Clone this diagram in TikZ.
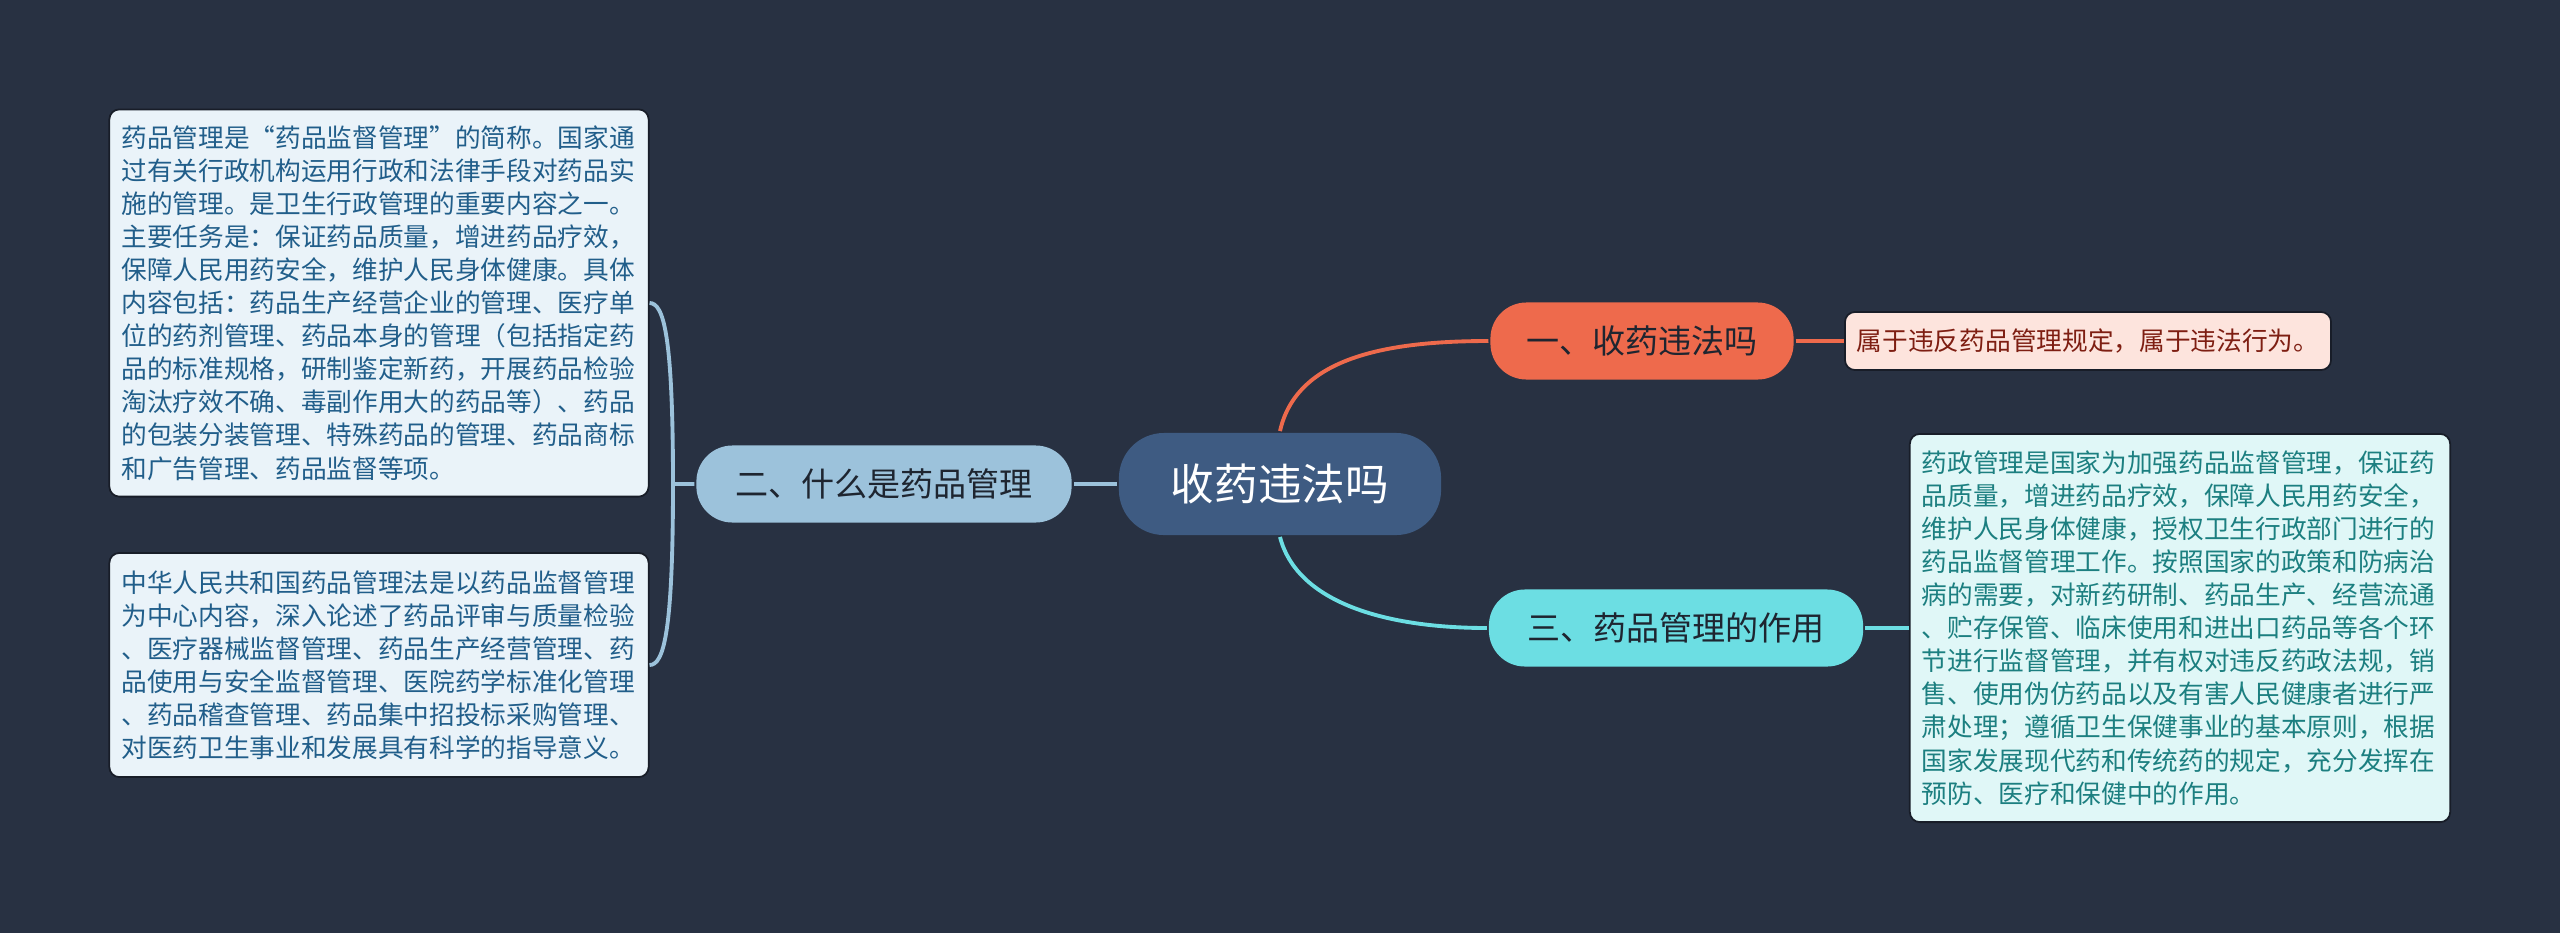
\documentclass[tikz,border=0pt]{standalone}
\usepackage{fontspec}
\setmainfont{Noto Sans CJK SC}
\definecolor{fond}{HTML}{283142}
\definecolor{bleuracine}{HTML}{3E5B82}
\definecolor{corail}{HTML}{EE6A4C}
\definecolor{rosepale}{HTML}{FDE4DD}
\definecolor{rougefonce}{HTML}{7E1E12}
\definecolor{cyan3}{HTML}{6CDEE3}
\definecolor{cyanpale}{HTML}{E0F7F7}
\definecolor{sarcelle}{HTML}{1C7F80}
\definecolor{bleuclair}{HTML}{9CC2DB}
\definecolor{bleupale}{HTML}{EAF3F9}
\definecolor{bleutexte}{HTML}{215E8A}
\definecolor{encre}{HTML}{1E2530}
\begin{document}
\begin{tikzpicture}[x=0.01cm, y=-0.01cm, line width=1.1pt]
\tikzstyle{racine} = [rounded corners=0.45cm, fill=bleuracine, text=white, inner sep=0pt, minimum width=3.22cm, minimum height=1.02cm, font=\fontsize{12.4}{14}\selectfont]
\tikzstyle{branche} = [rounded corners=0.36cm, text=encre, inner sep=0pt, minimum height=0.77cm, font=\fontsize{9.4}{11}\selectfont]
\tikzstyle{feuille} = [rounded corners=0.1cm, draw=fond!60!black, line width=0.5pt, inner xsep=0.12cm, inner ysep=0pt, align=left, font=\fontsize{7.3}{9.4}\selectfont]
\fill[fond] (0,0) rectangle (2560,933);
\node[racine] (R) at (1280,484) {收药违法吗};
\node[branche, fill=corail, minimum width=3.03cm] (B1) at (1642,341) {一、收药违法吗};
\node[branche, fill=bleuclair, minimum width=3.75cm] (B2) at (884,484) {二、什么是药品管理};
\node[branche, fill=cyan3, minimum width=3.74cm] (B3) at (1676,628) {三、药品管理的作用};
\node[feuille, fill=rosepale, text=rougefonce, minimum width=4.85cm, minimum height=0.58cm] (F1) at (2088,341) {属于违反药品管理规定，属于违法行为。};
\node[feuille, fill=cyanpale, text=sarcelle, text width=5.16cm, minimum height=3.88cm] (F3) at (2180,628) {药政管理是国家为加强药品监督管理，保证药\\
品质量，增进药品疗效，保障人民用药安全，\\
维护人民身体健康，授权卫生行政部门进行的\\
药品监督管理工作。按照国家的政策和防病治\\
病的需要，对新药研制、药品生产、经营流通\\
、贮存保管、临床使用和进出口药品等各个环\\
节进行监督管理，并有权对违反药政法规，销\\
售、使用伪仿药品以及有害人民健康者进行严\\
肃处理；遵循卫生保健事业的基本原则，根据\\
国家发展现代药和传统药的规定，充分发挥在\\
预防、医疗和保健中的作用。};
\node[feuille, fill=bleupale, text=bleutexte, text width=5.15cm, minimum height=3.87cm] (F2a) at (379,303) {药品管理是“药品监督管理”的简称。国家通\\
过有关行政机构运用行政和法律手段对药品实\\
施的管理。是卫生行政管理的重要内容之一。\\
主要任务是：保证药品质量，增进药品疗效，\\
保障人民用药安全，维护人民身体健康。具体\\
内容包括：药品生产经营企业的管理、医疗单\\
位的药剂管理、药品本身的管理（包括指定药\\
品的标准规格，研制鉴定新药，开展药品检验\\
淘汰疗效不确、毒副作用大的药品等）、药品\\
的包装分装管理、特殊药品的管理、药品商标\\
和广告管理、药品监督等项。};
\node[feuille, fill=bleupale, text=bleutexte, text width=5.15cm, minimum height=2.24cm] (F2b) at (379,665) {中华人民共和国药品管理法是以药品监督管理\\
为中心内容，深入论述了药品评审与质量检验\\
、医疗器械监督管理、药品生产经营管理、药\\
品使用与安全监督管理、医院药学标准化管理\\
、药品稽查管理、药品集中招投标采购管理、\\
对医药卫生事业和发展具有科学的指导意义。};
\coordinate (fourche) at (673,484);
% liens
\draw[corail] (R.north) .. controls (1296,360) and (1380,341) .. (B1.west);
\draw[cyan3] (R.south) .. controls (1296,600) and (1380,628) .. (B3.west);
\draw[bleuclair] (R.west) -- (B2.east);
\draw[corail] (B1.east) -- (F1.west);
\draw[cyan3] (B3.east) -- (F3.west);
\draw[bleuclair] (B2.west) -- (fourche) .. controls +(0,-150) and +(14,0) .. (F2a.east);
\draw[bleuclair] (fourche) .. controls +(0,150) and +(14,0) .. (F2b.east);
\end{tikzpicture}
\end{document}
